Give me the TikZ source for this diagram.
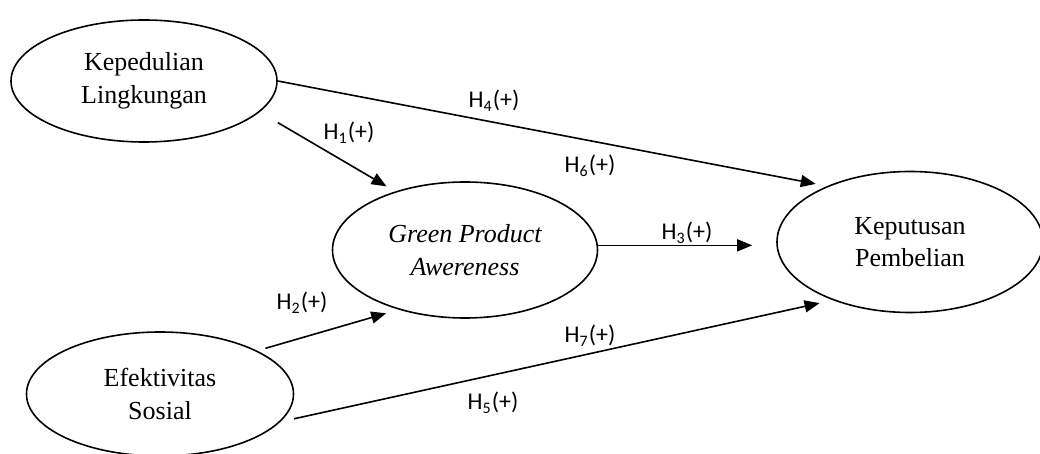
\documentclass[tikz,border=0pt]{standalone}
\usepackage{fontspec}
\setmainfont{Liberation Serif}
\newfontfamily\hypfont{Carlito}
\usetikzlibrary{shapes.geometric,arrows.meta}

\tikzset{
    var/.style={ellipse, draw, line width=0.8pt, align=center, inner sep=0pt,
        font=\fontsize{13}{16.3}\selectfont},
    hyp/.style={font=\hypfont\fontsize{12}{14}\selectfont, inner sep=0pt},
    arr/.style={line width=0.8pt, -{Triangle[length=7.5pt,width=6pt]}}
}

\begin{document}
\begin{tikzpicture}[x=0.5pt, y=-0.5pt]
    \useasboundingbox (0,0) rectangle (1040,454);
    % variabel
    \node[var, minimum width=133pt, minimum height=61pt] (kl) at (144,81) {Kepedulian\\Lingkungan};
    \node[var, minimum width=132.5pt, minimum height=68pt,
        font=\fontsize{13}{16.3}\selectfont\itshape] (gpa) at (465,250) {Green Product\\Awereness};
    \node[var, minimum width=133pt, minimum height=70.5pt] (kp) at (910,242) {Keputusan\\Pembelian};
    \node[var, minimum width=133.5pt, minimum height=62pt] (es) at (160,394) {Efektivitas\\Sosial};
    % panah hipotesis
    \draw[arr, shorten <=10.5pt, shorten >=5pt] (kl.-15) -- (gpa.140);
    \draw[arr, shorten >=5.75pt] (kl.east) -- (kp.146.5);
    \draw[arr, shorten <=4.25pt, shorten >=6.5pt] (es.24) -- (gpa.222);
    \draw[arr, shorten >=12pt] (gpa.2) -- (gpa.2 -| kp.west);
    \draw[arr, shorten <=7pt, shorten >=6.75pt] (es.-13) -- (kp.217);
    % label
    \node[hyp] (h1) at (349,133) {H\textsubscript{1}(+)};
    \node[hyp] (h2) at (302,303) {H\textsubscript{2}(+)};
    \node[hyp] (h3) at (687,233) {H\textsubscript{3}(+)};
    \node[hyp] (h4) at (494,101) {H\textsubscript{4}(+)};
    \node[hyp] (h5) at (493,403) {H\textsubscript{5}(+)};
    \node[hyp] (h6) at (590,166) {H\textsubscript{6}(+)};
    \node[hyp] (h7) at (590,336) {H\textsubscript{7}(+)};
\end{tikzpicture}
\end{document}
